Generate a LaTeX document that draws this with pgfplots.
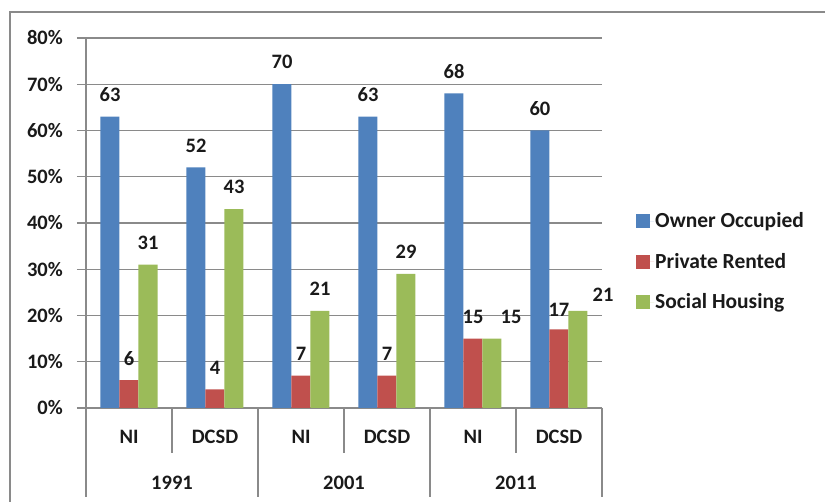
\documentclass[border=0pt]{standalone}
\usepackage{pgfplots}
\pgfplotsset{compat=1.18}
\usepackage{pgfplotstable}
\usepackage{fontspec}
\setmainfont{Carlito}
\definecolor{cblue}{HTML}{4F81BD}
\definecolor{cred}{HTML}{C0504D}
\definecolor{cgreen}{HTML}{9BBB59}
\definecolor{cgrid}{HTML}{8A8A8A}
\definecolor{ctext}{HTML}{1A1A1A}

\pgfplotstableread{
x owner pr social dxo dyo dxp dyp dxs dys
0 63 6 31 0 0 0 0 0 0
1 52 4 43 0 0 0 0 0 0
2 70 7 21 0 0 0 0 0 0
3 63 7 29 0 0 0 0 0 0
4 68 15 15 0 0 0 0 19 0
5 60 17 21 0 0 0 -2 25 -6
}\datatable

\begin{document}
\begin{tikzpicture}[x=1pt,y=1pt,font=\fontsize{20.5}{24}\selectfont\bfseries]
\useasboundingbox (0,0) rectangle (825,502);
\draw[cgrid, line width=1.5pt] (10,-2) -- (10,490) -- (828,490);
\begin{axis}[
  at={(86pt,94pt)}, anchor=south west,
  width=516pt, height=370pt, scale only axis,
  ymin=0, ymax=80, xmin=-0.5, xmax=5.5,
  ytick={0,10,...,80},
  yticklabel={\pgfmathprintnumber{\tick}\%},
  /pgf/number format/assume math mode=true,
  ymajorgrids, grid style={cgrid, line width=1.2pt},
  xtick={0,...,5}, xticklabels={NI,DCSD,NI,DCSD,NI,DCSD},
  xtick style={draw=none},
  ytick style={cgrid, line width=1.2pt},
  tick align=outside, major tick length=9pt,
  axis x line*=bottom, axis y line*=left,
  axis line style={cgrid, line width=1.2pt, -},
  tick label style={text=ctext, font=\fontsize{20.5}{24}\selectfont\bfseries},
  yticklabel style={anchor=east, inner sep=0pt, xshift=-14pt},
  xticklabel style={anchor=center, inner sep=0pt, yshift=-20pt},
  xticklabel shift=0pt,
  ybar, bar width=19pt,
  clip=false,
  nodes near coords,
  nodes near coords style={text=ctext, font=\fontsize{20.5}{24}\selectfont\bfseries, inner sep=0pt},
  legend style={at={(1.066,0.531)}, anchor=north west, draw=none, fill=none, inner sep=0pt,
     row sep=22pt, font=\fontsize{21.5}{24}\selectfont\bfseries, text=ctext,
     nodes={inner sep=1pt}},
  legend cell align=left,
]
\addplot[fill=cblue, draw=none, bar shift=-19pt,
  visualization depends on={\thisrow{dxo}\as\dx},
  visualization depends on={\thisrow{dyo}\as\dy},
  every node near coord/.append style={anchor=center, xshift=\dx pt, yshift={(22+\dy)*1pt}},
  legend image code/.code={\fill[cblue] (0pt,-7pt) rectangle (14pt,7pt); \path (0pt,0pt) -- (18pt,0pt);}]
  table[x=x,y=owner]{\datatable};
\addlegendentry{Owner Occupied}
\addplot[fill=cred, draw=none, bar shift=0pt,
  visualization depends on={\thisrow{dxp}\as\dx},
  visualization depends on={\thisrow{dyp}\as\dy},
  every node near coord/.append style={anchor=center, xshift=\dx pt, yshift={(22+\dy)*1pt}},
  legend image code/.code={\fill[cred] (0pt,-7pt) rectangle (14pt,7pt); \path (0pt,0pt) -- (18pt,0pt);}]
  table[x=x,y=pr]{\datatable};
\addlegendentry{Private Rented}
\addplot[fill=cgreen, draw=none, bar shift=19pt,
  visualization depends on={\thisrow{dxs}\as\dx},
  visualization depends on={\thisrow{dys}\as\dy},
  every node near coord/.append style={anchor=center, xshift=\dx pt, yshift={(22+\dy)*1pt}},
  legend image code/.code={\fill[cgreen] (0pt,-7pt) rectangle (14pt,7pt); \path (0pt,0pt) -- (18pt,0pt);}]
  table[x=x,y=social]{\datatable};
\addlegendentry{Social Housing}
\pgfplotsinvokeforeach{0.5,2.5,4.5}{\draw[cgrid, line width=1.2pt] (axis cs:#1,0) -- ++(0pt,-45pt);}
\pgfplotsinvokeforeach{-0.5,1.5,3.5,5.5}{\draw[cgrid, line width=1.2pt] (axis cs:#1,0) -- ++(0pt,-89pt);}
\node[text=ctext, anchor=center] at ([yshift=-75pt]axis cs:0.5,0) {1991};
\node[text=ctext, anchor=center] at ([yshift=-75pt]axis cs:2.5,0) {2001};
\node[text=ctext, anchor=center] at ([yshift=-75pt]axis cs:4.5,0) {2011};
\end{axis}
\end{tikzpicture}
\end{document}
